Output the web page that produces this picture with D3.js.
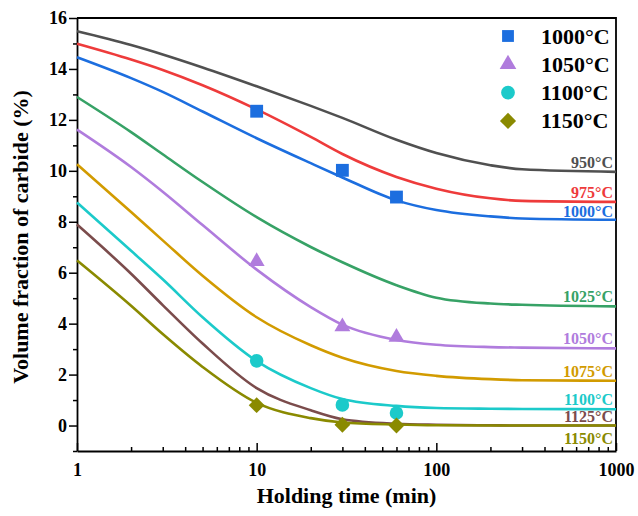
<!DOCTYPE html>
<html>
<head>
<meta charset="utf-8">
<script src="https://cdn.jsdelivr.net/npm/d3@7"></script>
<style>
  html, body { margin: 0; padding: 0; background: #fff; }
  svg { display: block; font-family: "Liberation Serif", "Times New Roman", serif; font-weight: bold; }
</style>
</head>
<body>
<svg id="chart"></svg>
<script>
// Holding times (min) at which each fitted curve was read
const times = [1, 2, 3, 5, 10, 20, 30, 60, 100, 200, 300, 1000];

// Fitted curves, one per temperature
const temps = ['950°C', '975°C', '1000°C', '1025°C', '1050°C', '1075°C', '1100°C', '1125°C', '1150°C'];
const fit950  = [15.48, 14.94, 14.57, 14.06, 13.32, 12.55, 12.08, 11.22, 10.70, 10.22, 10.06, 9.96];
const fit975  = [14.99, 14.37, 13.96, 13.36, 12.41, 11.33, 10.66, 9.76, 9.30, 8.92, 8.82, 8.78];
const fit1000 = [14.46, 13.64, 13.10, 12.33, 11.28, 10.30, 9.74, 8.84, 8.46, 8.21, 8.13, 8.08];
const fit1025 = [12.90, 11.52, 10.65, 9.56, 8.18, 7.01, 6.41, 5.51, 5.02, 4.79, 4.74, 4.68];
const fit1050 = [11.62, 10.15, 9.18, 7.87, 6.12, 4.65, 3.96, 3.36, 3.17, 3.08, 3.06, 3.03];
const fit1075 = [10.26, 8.38, 7.27, 5.88, 4.25, 3.15, 2.66, 2.14, 1.95, 1.82, 1.78, 1.76];
const fit1100 = [8.76, 6.86, 5.74, 4.25, 2.53, 1.47, 1.04, 0.77, 0.69, 0.66, 0.65, 0.64];
const fit1125 = [7.89, 5.96, 4.73, 3.22, 1.47, 0.60, 0.25, 0.07, 0.03, 0.01, 0.00, 0.00];
const fit1150 = [6.48, 4.70, 3.59, 2.30, 0.89, 0.29, 0.12, 0.04, 0.01, 0.00, 0.00, 0.00];
const fits = [fit950, fit975, fit1000, fit1025, fit1050, fit1075, fit1100, fit1125, fit1150];

// Measured points
const sampleTimes = [10, 30, 60];
const measTemps = ['1000°C', '1050°C', '1100°C', '1150°C'];
const meas1000 = [12.34, 10.02, 8.97];
const meas1050 = [6.44, 3.88, 3.47];
const meas1100 = [2.54, 0.81, 0.49];
const meas1150 = [0.80, 0.03, 0.00];
const measured = [meas1000, meas1050, meas1100, meas1150];

// Axis ticks
const xTicks = [1, 10, 100, 1000];
const yTicks = [0, 2, 4, 6, 8, 10, 12, 14, 16];

document.addEventListener('DOMContentLoaded', function() {
    const width = 638;
    const height = 516;
    const margin = { top: 18, right: 22, bottom: 65, left: 77 };

    const colors = {
        '950°C': '#505050', '975°C': '#EE3B3B', '1000°C': '#1C6EDF',
        '1025°C': '#37A266', '1050°C': '#B07CDD', '1075°C': '#D29B00',
        '1100°C': '#1CCACA', '1125°C': '#7B4C4C', '1150°C': '#8A8A00'
    };
    // label baseline shift from the curve's end value
    const labelShift = { '1000°C': -3, '1150°C': 18 };

    const svg = d3.select('#chart')
        .attr('width', width)
        .attr('height', height);

    const x = d3.scaleLog()
        .domain([1, 1000])
        .range([margin.left, width - margin.right]);

    const y = d3.scaleLinear()
        .domain([-1, 16])
        .range([height - margin.bottom, margin.top]);

    // x axis: ticks pointing inward
    const minorX = [];
    [1, 10, 100].forEach(dec => {
        for (let k = 2; k <= 9; k++) minorX.push(dec * k);
    });

    svg.append('g')
        .attr('transform', `translate(0,${y(-1)})`)
        .call(d3.axisBottom(x).tickValues(minorX).tickSize(-4).tickSizeOuter(0).tickFormat(''))
        .call(g => g.select('.domain').remove());

    svg.append('g')
        .attr('class', 'x-axis')
        .attr('transform', `translate(0,${y(-1)})`)
        .call(d3.axisBottom(x).tickValues(xTicks).tickSize(-8).tickSizeOuter(0)
            .tickPadding(12).tickFormat(d3.format('d')));

    // y axis: ticks pointing outward
    const minorY = d3.range(-1, 16, 2);
    svg.append('g')
        .attr('transform', `translate(${x(1)},0)`)
        .call(d3.axisLeft(y).tickValues(minorY).tickSize(4).tickSizeOuter(0).tickFormat(''))
        .call(g => g.select('.domain').remove());

    svg.append('g')
        .attr('class', 'y-axis')
        .attr('transform', `translate(${x(1)},0)`)
        .call(d3.axisLeft(y).tickValues(yTicks).tickSize(8).tickSizeOuter(0).tickPadding(2));

    svg.selectAll('.tick line').attr('stroke', '#000').attr('stroke-width', 1.5);
    svg.selectAll('.domain').attr('stroke', '#000').attr('stroke-width', 1.8);
    svg.selectAll('.tick text')
        .attr('fill', '#000')
        .style('font-size', '18px')
        .style('font-family', '"Liberation Serif", "Times New Roman", serif')
        .style('font-weight', 'bold');

    // top and right frame
    svg.append('path')
        .attr('d', `M${x(1)},${y(16)}H${x(1000)}V${y(-1)}`)
        .attr('fill', 'none')
        .attr('stroke', '#000')
        .attr('stroke-width', 1.8);

    // fitted curves
    const line = d3.line()
        .x((d, i) => x(times[i]))
        .y(d => y(d))
        .curve(d3.curveMonotoneX);

    svg.append('g')
        .selectAll('path')
        .data(fits)
        .join('path')
        .attr('d', d => line(d))
        .attr('fill', 'none')
        .attr('stroke', (d, i) => colors[temps[i]])
        .attr('stroke-width', 2.6);

    // curve labels at the right end
    svg.append('g')
        .selectAll('text')
        .data(fits)
        .join('text')
        .attr('x', x(1000) - 3)
        .attr('y', (d, i) => y(d[d.length - 1]) + (labelShift[temps[i]] !== undefined ? labelShift[temps[i]] : -4))
        .attr('text-anchor', 'end')
        .attr('fill', (d, i) => colors[temps[i]])
        .style('font-size', '16px')
        .text((d, i) => temps[i]);

    // measured points
    const shapes = [
        { type: d3.symbolSquare, size: 165, rotate: 0 },
        { type: d3.symbolTriangle, size: 110, rotate: 0 },
        { type: d3.symbolCircle, size: 145, rotate: 0 },
        { type: d3.symbolSquare, size: 125, rotate: 45 }
    ];

    measured.forEach((vals, s) => {
        const sym = d3.symbol().type(shapes[s].type).size(shapes[s].size);
        svg.append('g')
            .selectAll('path')
            .data(vals)
            .join('path')
            .attr('d', sym)
            .attr('transform', (d, i) => `translate(${x(sampleTimes[i])},${y(d)}) rotate(${shapes[s].rotate})`)
            .attr('fill', colors[measTemps[s]]);
    });

    // legend
    const legend = svg.append('g').attr('transform', 'translate(508,36)');
    const legendSizes = [140, 120, 150, 130];
    measTemps.forEach((t, s) => {
        const row = legend.append('g').attr('transform', `translate(0,${s * 28.3})`);
        row.append('path')
            .attr('d', d3.symbol().type(shapes[s].type).size(legendSizes[s]))
            .attr('transform', `rotate(${shapes[s].rotate})`)
            .attr('fill', colors[t]);
        row.append('text')
            .attr('x', 33)
            .attr('y', 7.5)
            .attr('fill', '#000')
            .style('font-size', '22px')
            .text(t);
    });

    // axis titles
    svg.append('text')
        .attr('x', (x(1) + x(1000)) / 2)
        .attr('y', 503)
        .attr('text-anchor', 'middle')
        .style('font-size', '22px')
        .text('Holding time (min)');

    svg.append('text')
        .attr('transform', 'translate(28,237) rotate(-90)')
        .attr('text-anchor', 'middle')
        .style('font-size', '22px')
        .text('Volume fraction of carbide (%)');
});
</script>
</body>
</html>
